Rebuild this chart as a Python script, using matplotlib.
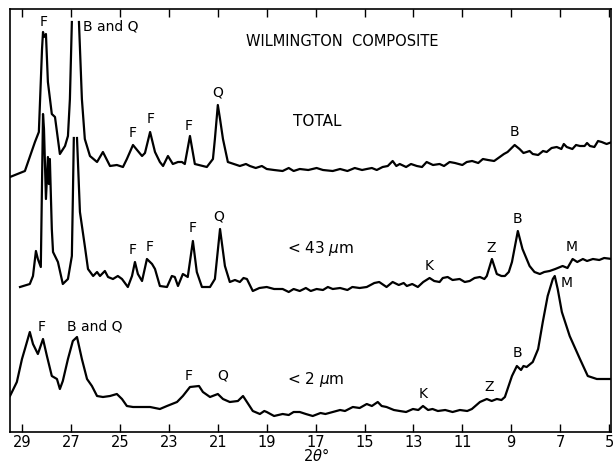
import numpy as np
import matplotlib
matplotlib.use("Agg")
import matplotlib.pyplot as plt

# XRD traces, Wilmington composite; intensity in arbitrary units
# NaN = pen went off the chart (truncated peak)

# TOTAL
tt_total = [29.50, 28.89, 28.48, 28.32, 28.19, 28.15, 28.11, 28.03, 27.95, 27.79,
            27.66, 27.46, 27.25, 27.13, 27.05, 26.97, 26.80, 26.68, 26.56, 26.44,
            26.23, 25.94, 25.70, 25.41, 25.13, 24.88, 24.72, 24.47, 24.27, 24.10,
            23.98, 23.77, 23.57, 23.37, 23.24, 23.04, 22.84, 22.63, 22.47, 22.35,
            22.14, 21.94, 21.45, 21.20, 21.12, 21.00, 20.91, 20.79, 20.59,
            20.10, 19.85, 19.69, 19.45, 19.20, 19.00, 18.70, 18.35, 18.10, 17.90,
            17.65, 17.30, 16.96, 16.70, 16.30, 16.00, 15.70, 15.40, 15.10, 14.91,
            14.70, 14.50, 14.26, 14.05, 13.85, 13.70, 13.56, 13.30, 13.10, 12.86,
            12.65, 12.46, 12.20, 11.93, 11.75, 11.52, 11.30, 11.00, 10.82, 10.60,
            10.35, 10.16, 9.95, 9.70, 9.47, 9.30, 9.15, 8.86, 8.66, 8.50,
            8.37, 8.25, 8.12, 7.90, 7.70, 7.55, 7.35, 7.14, 6.95, 6.85,
            6.73, 6.50, 6.35, 6.19, 6.00, 5.90, 5.78, 5.60, 5.45, 5.30,
            5.10, 4.88]
i_total = [255, 261, 290, 300, 383, 400, 395, 398, 350, 318,
           315, 278, 286, 296, 333, 410, np.nan, 410, 333, 293,
           276, 270, 280, 266, 267, 265, 273, 287, 281, 276,
           279, 300, 280, 270, 266, 276, 268, 270, 270, 268,
           296, 268, 265, 273, 293, 327, 313, 293, 270,
           266, 268, 266, 264, 266, 263, 262, 261, 264, 261,
           263, 262, 264, 262, 261, 263, 261, 264, 262, 263,
           264, 262, 265, 266, 271, 266, 268, 265, 268, 266,
           265, 270, 267, 268, 266, 270, 269, 267, 270, 271,
           269, 273, 272, 271, 275, 278, 280, 287, 283, 279,
           280, 281, 278, 277, 281, 280, 284, 285, 283, 288,
           285, 283, 287, 286, 286, 289, 286, 285, 291, 290,
           288, 290]

# < 43 um
tt_43 = [29.09, 28.69, 28.56, 28.44, 28.36, 28.24, 28.15, 28.11, 28.03, 27.95,
         27.91, 27.87, 27.79, 27.74, 27.54, 27.34, 27.13, 26.97, 26.93, 26.89,
         26.82, 26.76, 26.64, 26.44, 26.31, 26.10, 25.94, 25.82, 25.62, 25.49,
         25.29, 25.09, 24.92, 24.68, 24.51, 24.39, 24.27, 24.10, 23.90, 23.69,
         23.57, 23.37, 23.08, 22.88, 22.76, 22.63, 22.43, 22.23, 22.02, 21.86,
         21.65, 21.32, 21.12, 20.91, 20.71,
         20.51, 20.30, 20.10, 19.95, 19.81, 19.57, 19.30, 19.00, 18.70, 18.35,
         18.10, 17.90, 17.65, 17.40, 17.20, 16.96, 16.70, 16.50, 16.30, 16.00,
         15.70, 15.50, 15.20, 14.91, 14.60, 14.40, 14.10, 13.85, 13.60, 13.40,
         13.27, 13.05, 12.82, 12.60, 12.34, 12.15, 11.93, 11.80, 11.60, 11.40,
         11.11, 10.90, 10.70, 10.50, 10.28, 10.10, 10.00, 9.79, 9.59, 9.40,
         9.26, 9.10, 8.97, 8.73, 8.54, 8.25, 8.05, 7.83, 7.65, 7.43,
         7.20, 6.90, 6.70, 6.49, 6.30, 6.07, 5.90, 5.66, 5.40, 5.20,
         4.88]
i_43 = [145, 148, 156, 181, 173, 165, 318, 303, 233, 275,
        248, 273, 203, 180, 170, 148, 153, 176, 233, 294,
        np.nan, 294, 220, 186, 163, 156, 160, 156, 161, 155,
        153, 156, 153, 145, 156, 170, 158, 151, 173, 168,
        163, 146, 145, 156, 155, 146, 158, 155, 191, 160,
        145, 145, 153, 203, 166,
        150, 152, 150, 154, 153, 141, 144, 145, 143, 143,
        140, 143, 141, 144, 141, 143, 142, 145, 143, 144,
        142, 145, 144, 145, 149, 150, 145, 150, 147, 149,
        146, 148, 145, 150, 154, 151, 150, 154, 155, 152,
        153, 150, 151, 154, 155, 153, 156, 173, 158, 156,
        156, 160, 170, 201, 183, 166, 160, 158, 160, 161,
        163, 166, 164, 173, 170, 173, 171, 173, 172, 174,
        173]

# < 2 um
tt_2 = [29.50, 29.22, 29.01, 28.89, 28.69, 28.56, 28.36, 28.15, 27.99, 27.79,
        27.58, 27.46, 27.34, 27.13, 26.93, 26.76, 26.56, 26.35, 26.15, 25.94,
        25.70, 25.41, 25.13, 24.92, 24.72, 24.47, 23.77, 23.37, 23.08, 22.67,
        22.43, 22.14, 21.77, 21.61, 21.32, 21.00, 20.79, 20.51, 20.18, 19.97,
        19.81, 19.57, 19.28, 19.10, 19.00, 18.70, 18.35, 18.10, 17.90, 17.65,
        17.40, 17.12, 16.80, 16.60, 16.30, 16.00, 15.80, 15.48, 15.20, 14.91,
        14.70, 14.46, 14.30, 14.10, 13.80, 13.56, 13.30, 13.02, 12.80, 12.61,
        12.40, 12.22, 12.00, 11.70, 11.40, 11.10, 10.80, 10.61, 10.28, 10.00,
        9.80, 9.59, 9.40, 9.26, 8.97, 8.77, 8.60, 8.50, 8.37, 8.12,
        7.90, 7.71, 7.51, 7.30, 7.22, 7.10, 6.93, 6.61, 6.19, 5.87,
        5.50, 4.88]
i_2 = [36, 50, 73, 83, 100, 88, 78, 93, 76, 56,
       53, 43, 51, 73, 91, 95, 73, 53, 46, 36,
       35, 36, 38, 33, 26, 25, 25, 23, 26, 30,
       36, 45, 46, 40, 35, 38, 33, 30, 31, 36,
       30, 21, 18, 21, 20, 16, 18, 17, 20, 20,
       18, 16, 19, 18, 20, 22, 21, 25, 24, 28,
       26, 30, 26, 25, 22, 21, 20, 23, 22, 26,
       22, 23, 21, 22, 20, 22, 21, 23, 30, 33,
       31, 33, 32, 35, 56, 66, 62, 66, 65, 70,
       83, 110, 136, 153, 156, 143, 120, 96, 73, 56,
       53, 53]

xticks = [29, 27, 25, 23, 21, 19, 17, 15, 13, 11, 9, 7, 5]

# peak labels: (text, 2theta, intensity)
labels_total = [("F", 28.11, 411), ("F", 24.47, 300), ("F", 23.74, 314),
                ("F", 22.19, 307), ("Q", 21.00, 341), ("B", 8.86, 301)]
labels_43 = [("F", 24.47, 183), ("F", 23.78, 186), ("F", 22.02, 205),
             ("Q", 20.96, 216), ("K", 12.34, 167), ("Z", 9.84, 185),
             ("B", 8.73, 214), ("M", 6.52, 186)]
labels_2 = [("F", 28.19, 106), ("F", 22.19, 57), ("Q", 20.79, 57),
            ("K", 12.61, 39), ("Z", 9.91, 46), ("B", 8.73, 80), ("M", 6.73, 150)]

plt.rcParams['font.family'] = ['DejaVu Sans']

fig = plt.figure(figsize=(6.13, 4.64), dpi=100)
ax = fig.add_axes([10/613, 31/464, 601/613, 423/464])

for tt, ii in [(tt_total, i_total), (tt_43, i_43), (tt_2, i_2)]:
    ax.plot(tt, ii, '-', color='black', lw=1.6, solid_joinstyle='round')

ax.set_xlim(29.5, 4.92)
ax.set_ylim(0, 423)
ax.set_xticks(xticks)
ax.set_xticklabels([str(v) for v in xticks], fontsize=10.5)
ax.tick_params(axis='x', direction='in', length=6, width=1, top=True, pad=1.5)
ax.set_yticks([])
for s in ax.spines.values():
    s.set_linewidth(1.2)

for grp in (labels_total, labels_43, labels_2):
    for txt, x, y in grp:
        ax.text(x, y, txt, ha='center', va='center', fontsize=10)

ax.text(26.52, 406, "B and Q", ha='left', va='center', fontsize=10)
ax.text(27.17, 106, "B and Q", ha='left', va='center', fontsize=10)
ax.text(15.92, 391, "WILMINGTON  COMPOSITE", ha='center', va='center', fontsize=10.5)
ax.text(16.95, 311, "TOTAL", ha='center', va='center', fontsize=11)
ax.text(18.17, 185, r"< 43 $\mu$m", ha='left', va='center', fontsize=11)
ax.text(18.17, 53, r"< 2 $\mu$m", ha='left', va='center', fontsize=11)

ax.set_xlabel(r"2$\theta$°", fontsize=10.5)
ax.xaxis.set_label_coords((316 - 10) / 601, -14 / 423)

fig.savefig("out.png", dpi=100)
